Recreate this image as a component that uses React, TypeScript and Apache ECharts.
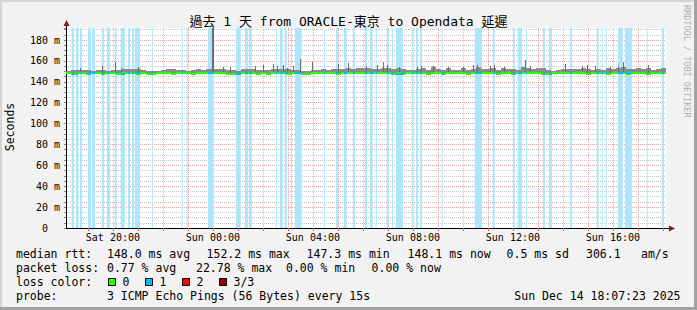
import React, { useEffect, useRef } from 'react';
import * as echarts from 'echarts';

// Time is expressed in hours since Sat 00:00 (local).
const START_HOUR = 18 + 7 / 60 + 23 / 3600; // Sat 18:07:23
const END_HOUR = START_HOUR + 24; // Sun 18:07:23
const COLUMN_HOURS = 0.2;

const xLabelHours = [20, 24, 28, 32, 36, 40];
const xGridHours = [19, 20, 21, 22, 23, 24, 25, 26, 27, 28, 29, 30, 31, 32, 33, 34, 35, 36, 37, 38, 39, 40, 41, 42];
const yLabelValues = [0, 20, 40, 60, 80, 100, 120, 140, 160, 180];
const Y_MAX = 191.5;

// Smoke (ms) top per column
const smokeTop = [
  150.5, 151.0, 151.3, 151.0, 151.3, 150.8, 151.3, 151.0, 150.5, 151.0,
  151.3, 152.2, 152.0, 152.2, 152.5, 151.3, 150.8, 150.3, 150.0, 151.5,
  152.0, 152.2, 151.5, 151.3, 150.8, 151.0, 152.0, 151.5, 152.0, 152.5,
  152.6, 152.0, 151.3, 151.0, 150.8, 152.2, 152.0, 152.2, 151.3, 151.3,
  151.3, 152.5, 152.5, 152.2, 152.0, 151.3, 151.0, 150.5, 150.5, 151.3,
  151.5, 152.0, 151.5, 152.0, 152.0, 152.5, 153.0, 152.5, 152.8, 153.5,
  153.0, 152.2, 152.5, 153.5, 152.8, 152.2, 152.8, 152.0, 151.3, 151.3,
  152.0, 152.8, 151.3, 154.0, 152.0, 151.5, 153.0, 151.3, 151.3, 153.0,
  151.3, 152.5, 154.0, 152.2, 152.5, 153.0, 151.3, 152.8, 152.2, 152.0,
  151.5, 154.0, 153.5, 152.2, 153.0, 152.8, 151.3, 150.8, 151.0, 152.5,
  152.2, 152.5, 152.0, 153.5, 152.0, 151.3, 152.5, 151.3, 153.0, 152.2,
  153.5, 154.5, 152.2, 152.0, 153.5, 152.2, 153.0, 151.3, 152.5, 153.0,
];

// Median rtt (ms) per column
const medianRtt = [
  148.0, 147.8, 148.2, 148.0, 147.7, 148.1, 148.3, 147.9, 148.0, 148.2,
  147.8, 148.0, 148.4, 148.1, 147.9, 148.0, 147.6, 147.8, 148.0, 148.2,
  148.1, 147.9, 148.0, 148.3, 148.0, 147.8, 148.1, 148.0, 148.2, 148.6,
  148.3, 148.0, 147.9, 147.7, 147.8, 148.0, 148.2, 148.1, 147.9, 148.0,
  147.8, 148.1, 148.3, 148.0, 147.9, 148.2, 148.0, 147.8, 147.7, 148.0,
  148.1, 148.0, 148.2, 148.0, 147.9, 148.1, 148.3, 148.2, 148.0, 148.4,
  148.3, 148.0, 148.1, 148.2, 148.0, 147.9, 148.1, 147.8, 148.0, 148.2,
  148.0, 148.3, 147.9, 148.1, 148.0, 147.8, 148.0, 148.2, 148.0, 148.1,
  147.9, 148.2, 148.4, 148.0, 148.1, 148.2, 147.9, 148.0, 148.1, 147.8,
  148.0, 148.2, 148.3, 148.0, 148.1, 147.9, 147.8, 148.0, 148.1, 148.3,
  148.0, 148.2, 148.0, 148.1, 147.9, 148.0, 148.2, 148.0, 147.9, 148.1,
  148.2, 148.0, 147.8, 148.0, 148.1, 148.0, 147.9, 148.1, 148.0, 148.2,
];

const SMOKE_FLOOR = 147.2;

// Individual ping spikes
const spikeHours = [18.67, 19.56, 20.08, 20.32, 21.0, 23.96, 24.4, 24.68, 25.67, 26.02, 26.4, 26.56, 26.8, 26.96, 27.2, 27.5, 27.96, 29.02, 29.4, 30.12, 30.56, 30.8, 30.96, 31.44, 32.16, 32.32, 32.8, 33.4, 34.0, 34.4, 34.56, 35.08, 35.24, 35.64, 36.48, 36.68, 38.08, 38.76, 38.96, 39.28, 39.88, 40.2, 40.4, 41.4];
const spikeTops = [153.5, 155.0, 158.6, 153.5, 153.8, 200.0, 154.0, 154.5, 155.4, 156.0, 157.0, 155.0, 156.5, 153.5, 155.5, 162.0, 159.0, 157.0, 158.0, 155.0, 155.7, 159.0, 156.0, 154.5, 154.0, 155.0, 154.8, 153.8, 154.0, 156.0, 156.0, 155.0, 156.0, 154.5, 160.5, 155.0, 157.5, 155.0, 156.0, 155.0, 154.0, 155.5, 158.5, 156.5];

// Periods with packet loss: [start hour, end hour]
const lossPeriods = [
  [18.35, 18.44], [18.52, 18.62], [18.68, 18.76], [19.0, 19.12], [19.16, 19.28],
  [19.55, 19.64], [19.76, 19.88], [20.08, 20.15], [20.31, 20.48], [20.6, 20.68],
  [20.76, 20.84], [20.88, 21.08], [21.56, 21.6], [22.75, 22.79], [22.95, 22.99],
  [23.8, 24.0], [24.92, 25.11], [25.28, 25.4], [25.44, 25.56], [26.52, 26.56],
  [26.68, 26.79], [26.88, 26.96], [27.12, 27.16], [27.28, 27.55], [28.44, 28.48],
  [28.92, 29.0], [29.24, 29.35], [29.6, 29.68], [30.08, 30.16], [30.28, 30.39],
  [30.51, 30.55], [30.95, 31.03], [31.16, 31.2], [31.32, 31.6], [31.95, 32.0],
  [32.12, 32.2], [32.28, 32.36], [33.15, 33.19], [34.48, 34.76], [35.19, 35.27],
  [36.0, 36.07], [36.19, 36.36], [36.52, 36.56], [37.2, 37.28], [37.44, 37.56],
  [38.28, 38.36], [39.35, 39.43], [39.55, 39.59], [39.71, 39.75], [40.2, 40.39],
  [40.48, 40.76], [41.35, 41.39], [41.95, 42.04],
];

const TITLE = '過去 1 天 from ORACLE-東京 to Opendata 延遲';
const Y_NAME = 'Seconds';
const CREDIT = 'RRDTOOL / TOBI OETIKER';
const legendLines = [
  { y: 254, parts: [[16, 'median rtt:'], [107, '148.0 ms avg'], [206.6, '152.2 ms max'], [306.6, '147.3 ms min'], [407.6, '148.1 ms now'], [506.6, '0.5 ms sd'], [586, '306.1'], [641, 'am/s']] },
  { y: 268, parts: [[16, 'packet loss:'], [107, '0.77 % avg'], [196, '22.78 % max'], [286, '0.00 % min'], [371.6, '0.00 % now']] },
  { y: 282, parts: [[16, 'loss color:']] },
  { y: 296, parts: [[16, 'probe:'], [107, '3 ICMP Echo Pings (56 Bytes) every 15s']] },
];
const lossColorLabels = ['0', '1', '2', '3/3'];
const lossColors = ['#26ff00', '#00b8ff', '#ff0000', '#9a0000'];
const DATE_TEXT = 'Sun Dec 14 18:07:23 2025';

const MONO = "'DejaVu Sans Mono', 'Noto Sans CJK TC', monospace";

function hourLabel(h: number): string {
  const day = h < 24 ? 'Sat' : 'Sun';
  const hh = Math.round(h) % 24;
  return `${day} ${hh < 10 ? '0' + hh : hh}:00`;
}

export default function App() {
  const ref = useRef<HTMLDivElement>(null);
  useEffect(() => {
    if (!ref.current) return;
    const chart = echarts.init(ref.current, null, { renderer: 'svg' });

    const smokeData = smokeTop.map((top, i) => [
      START_HOUR + i * COLUMN_HOURS,
      START_HOUR + (i + 1) * COLUMN_HOURS,
      SMOKE_FLOOR,
      top,
      0,
    ]);
    const spikeData = spikeHours.map((h, i) => [h, h + (spikeTops[i] > Y_MAX ? 0.08 : 0.04), medianRtt[Math.floor((h - START_HOUR) / COLUMN_HOURS)], spikeTops[i], 1]);

    const medianData: any[] = medianRtt.map((m, i) => [
      START_HOUR + i * COLUMN_HOURS,
      START_HOUR + (i + 1) * COLUMN_HOURS,
      m,
      0,
    ]);
    lossPeriods.forEach(([s, e]) => {
      const idx = Math.min(medianRtt.length - 1, Math.max(0, Math.floor((s - START_HOUR) / COLUMN_HOURS)));
      medianData.push([s, e, medianRtt[idx], 1]);
    });

    const graphic: any[] = [
      { type: 'rect', shape: { x: 0, y: 0, width: 697, height: 2 }, style: { fill: '#d4d4d4' }, silent: true },
      { type: 'rect', shape: { x: 0, y: 0, width: 2, height: 310 }, style: { fill: '#d4d4d4' }, silent: true },
      { type: 'rect', shape: { x: 694, y: 0, width: 3, height: 310 }, style: { fill: '#a2a2a2' }, silent: true },
      { type: 'rect', shape: { x: 0, y: 307, width: 697, height: 3 }, style: { fill: '#a2a2a2' }, silent: true },
      { type: 'text', x: 348.5, y: 21.5, style: { text: TITLE, font: `13px ${MONO}`, fill: '#000', align: 'center', verticalAlign: 'middle' }, silent: true },
      { type: 'text', x: 10, y: 127, rotation: Math.PI / 2, style: { text: Y_NAME, font: `11.5px ${MONO}`, fill: '#000', align: 'center', verticalAlign: 'middle' }, silent: true },
      { type: 'text', x: 687, y: 5, rotation: -Math.PI / 2, style: { text: CREDIT, font: `8.5px ${MONO}`, fill: '#b0b0b0', align: 'left', verticalAlign: 'middle' }, silent: true },
      { type: 'line', shape: { x1: 66.5, y1: 28, x2: 66.5, y2: 24 }, style: { stroke: '#000', lineWidth: 1 }, silent: true },
      { type: 'polygon', shape: { points: [[63.5, 26], [69.5, 26], [66.5, 20]] }, style: { fill: '#8b1a1a' }, silent: true },
      { type: 'line', shape: { x1: 666, y1: 228.5, x2: 670, y2: 228.5 }, style: { stroke: '#000', lineWidth: 1 }, silent: true },
      { type: 'polygon', shape: { points: [[669, 225.5], [669, 231.5], [675, 228.5]] }, style: { fill: '#8b1a1a' }, silent: true },
    ];

    legendLines.forEach((ln) => {
      ln.parts.forEach(([x, t]) => {
        graphic.push({ type: 'text', x: x as number, y: ln.y, style: { text: t as string, font: `11.5px ${MONO}`, fill: '#000', align: 'left', verticalAlign: 'middle' }, silent: true });
      });
    });
    const squareX = [108.5, 145.5, 182.5, 219.5];
    lossColorLabels.forEach((lab, i) => {
      graphic.push({ type: 'rect', shape: { x: squareX[i], y: 278.5, width: 7, height: 7 }, style: { fill: lossColors[i], stroke: '#000', lineWidth: 1 }, silent: true });
      graphic.push({ type: 'text', x: squareX[i] + 14, y: 282, style: { text: lab, font: `11.5px ${MONO}`, fill: '#000', align: 'left', verticalAlign: 'middle' }, silent: true });
    });
    graphic.push({ type: 'text', x: 680.5, y: 296, style: { text: DATE_TEXT, font: `11.5px ${MONO}`, fill: '#000', align: 'right', verticalAlign: 'middle' }, silent: true });

    const rectRender = (colorFn: (api: any) => string, thick: boolean) => (params: any, api: any) => {
      const a = api.coord([api.value(0), thick ? api.value(2) : api.value(3)]);
      const b = api.coord([api.value(1), api.value(2)]);
      const x0 = Math.round(a[0]);
      const x1 = Math.max(x0 + 1, Math.round(b[0]));
      if (thick) {
        const yc = Math.round(a[1]);
        return { type: 'rect', shape: { x: x0, y: yc - 1, width: x1 - x0, height: 2 }, style: { fill: colorFn(api) } };
      }
      const yt = Math.round(a[1]);
      const yb = Math.round(b[1]);
      return { type: 'rect', shape: { x: x0, y: yt, width: x1 - x0, height: Math.max(1, yb - yt) }, style: { fill: colorFn(api) } };
    };

    const option: any = {
      animation: false,
      backgroundColor: '#f2f2f2',
      grid: { left: 66, top: 28, width: 600, height: 200, show: true, backgroundColor: '#ffffff', borderWidth: 0 },
      xAxis: {
        type: 'value',
        min: START_HOUR,
        max: END_HOUR,
        axisLine: { show: true, lineStyle: { color: '#000', width: 1 } },
        axisTick: { show: true, customValues: xGridHours, length: 3, lineStyle: { color: '#e06060' } },
        axisLabel: { customValues: xLabelHours, formatter: (v: number) => hourLabel(v), fontFamily: MONO, fontSize: 10, color: '#000', margin: 4 },
        splitLine: { show: true, showMinLine: false, showMaxLine: false, lineStyle: { color: ['#c4c4c4', '#f09c9c'], type: [1, 1], width: 1 } },
      },
      yAxis: {
        type: 'value',
        min: 0,
        max: Y_MAX,
        interval: 5,
        axisLine: { show: true, lineStyle: { color: '#000', width: 1 } },
        axisTick: { show: true, length: 2, lineStyle: { color: '#888' } },
        axisLabel: { customValues: yLabelValues, formatter: (v: number) => (v === 0 ? '0\u00a0\u00a0' : `${v} m`), fontFamily: MONO, fontSize: 10, color: '#000', margin: 6 },
        splitLine: { show: true, showMinLine: true, showMaxLine: false, lineStyle: { color: ['#f09c9c', '#c4c4c4', '#c4c4c4', '#c4c4c4'], type: [1, 1], width: 1 } },
      },
      graphic,
      series: [
        {
          type: 'line',
          data: [],
          z: 1,
          silent: true,
          markArea: {
            silent: true,
            itemStyle: { color: '#ace6fb' },
            data: lossPeriods.map(([s, e]) => [{ xAxis: s }, { xAxis: e }]),
          },
        },
        {
          type: 'custom',
          z: 3,
          silent: true,
          clip: true,
          encode: { x: [0, 1], y: [2, 3] },
          data: smokeData.concat(spikeData),
          renderItem: rectRender((api) => (api.value(4) === 1 ? '#6e6e6e' : '#8a8a8a'), false),
        },
        {
          type: 'custom',
          z: 4,
          silent: true,
          clip: true,
          encode: { x: [0, 1], y: [2] },
          data: medianData,
          renderItem: rectRender((api) => (api.value(3) === 1 ? '#00b8ff' : '#26ff00'), true),
        },
      ],
    };
    chart.setOption(option);
    return () => chart.dispose();
  }, []);

  return (
    <div style={{ position: 'fixed', left: 0, top: 0, width: 697, height: 310 }}>
      <div ref={ref} style={{ width: 697, height: 310 }} />
    </div>
  );
}
